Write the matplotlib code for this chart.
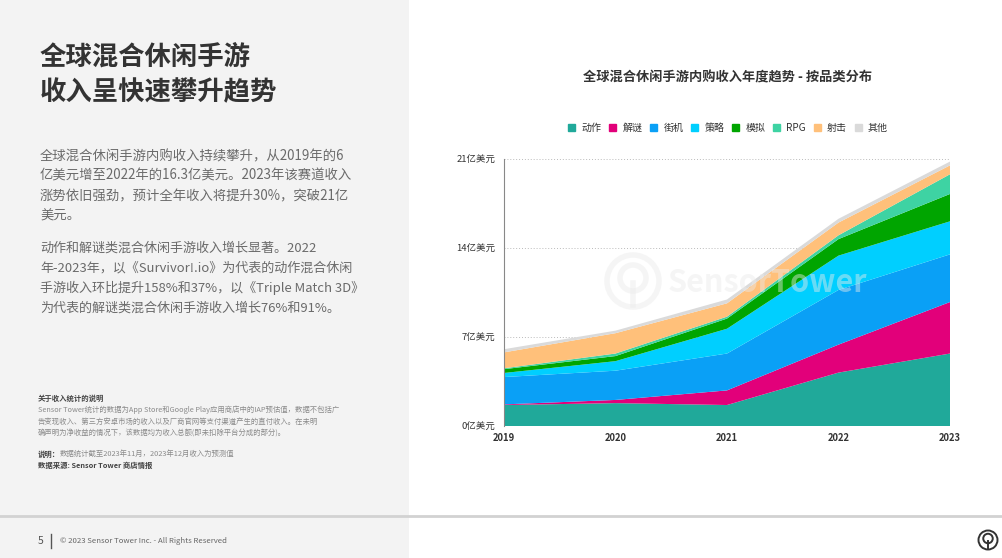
import matplotlib.pyplot as plt
import matplotlib.patches as mpatches
from matplotlib.patches import Rectangle
from matplotlib.lines import Line2D

plt.rcParams['font.family'] = ['Noto Sans CJK SC', 'DejaVu Sans']

# 数据（亿美元）
years = [2019, 2020, 2021, 2022, 2023]
categories = ['动作', '解谜', '街机', '策略', '模拟', 'RPG', '射击', '其他']
action = [1.65, 1.8, 1.65, 4.2, 5.7]
puzzle = [0.05, 0.25, 1.15, 2.2, 4.05]
arcade = [2.15, 2.3, 2.9, 4.3, 3.75]
strategy = [0.32, 0.75, 1.95, 2.7, 2.6]
simulation = [0.3, 0.4, 0.8, 1.3, 2.15]
rpg = [0.07, 0.2, 0.15, 0.3, 1.55]
shooter = [1.25, 1.6, 1.05, 1.0, 0.7]
other = [0.25, 0.2, 0.3, 0.3, 0.3]
y_ticks = [0, 7, 14, 21]
y_tick_labels = ['0亿美元', '7亿美元', '14亿美元', '21亿美元']

colors = ['#20a99a', '#e2007a', '#0aa0f6', '#00cfff', '#00a500', '#3ed3a3', '#ffc07a', '#dadada']

W, H = 1002, 558


def px(x, y):
    return x / W, 1 - y / H


fig = plt.figure(figsize=(W / 100, H / 100), dpi=100)
fig.patch.set_facecolor('white')

# 左侧灰色面板
fig.patches.append(Rectangle((0, 0), 409 / W, 1, transform=fig.transFigure,
                             facecolor='#f3f3f3', edgecolor='none', zorder=0))
# 底部分隔线
fig.lines.append(Line2D([0, 1], [1 - 515.5 / H] * 2, transform=fig.transFigure,
                        color='#d2d2d2', linewidth=2, zorder=1))

# 左侧标题
fig.text(*px(40, 57), '全球混合休闲手游', fontsize=19, fontweight='bold',
         color='#333333', va='center')
fig.text(*px(40, 93), '收入呈快速攀升趋势', fontsize=19, fontweight='bold',
         color='#333333', va='center')

para1 = ['全球混合休闲手游内购收入持续攀升，从2019年的6',
         '亿美元增至2022年的16.3亿美元。2023年该赛道收入',
         '涨势依旧强劲，预计全年收入将提升30%，突破21亿',
         '美元。']
para2 = ['动作和解谜类混合休闲手游收入增长显著。2022',
         '年-2023年，以《Survivor!.io》为代表的动作混合休闲',
         '手游收入环比提升158%和37%，以《Triple Match 3D》',
         '为代表的解谜类混合休闲手游收入增长76%和91%。']
for i, line in enumerate(para1):
    fig.text(*px(40, 156 + i * 20), line, fontsize=9.6, color='#6a6a6a', va='center')
for i, line in enumerate(para2):
    fig.text(*px(40, 248 + i * 20), line, fontsize=9.4, color='#6a6a6a', va='center')

# 注释
fig.text(*px(38, 398), '关于收入统计的说明', fontsize=5.3, fontweight='bold',
         color='#444444', va='center')
notes = ['Sensor Tower统计的数据为App Store和Google Play应用商店中的IAP预估值，数据不包括广',
         '告变现收入、第三方安卓市场的收入以及厂商官网等支付渠道产生的直付收入。在未明',
         '确声明为净收益的情况下，该数据均为收入总额(即未扣除平台分成的部分)。']
for i, line in enumerate(notes):
    fig.text(*px(38, 410 + i * 12), line, fontsize=5.3, color='#8a8a8a', va='center')
fig.text(*px(38, 454), '说明：', fontsize=5.3, fontweight='bold', color='#444444', va='center')
fig.text(*px(60, 454), '数据统计截至2023年11月，2023年12月收入为预测值', fontsize=5.3,
         color='#8a8a8a', va='center')
fig.text(*px(38, 465), '数据来源: Sensor Tower 商店情报', fontsize=5.3, fontweight='bold',
         color='#444444', va='center')

# 页脚
fig.text(*px(38, 541), '5', fontsize=7.5, color='#555555', va='center')
fig.lines.append(Line2D([51 / W] * 2, [1 - 534 / H, 1 - 548 / H], transform=fig.transFigure,
                        color='#555555', linewidth=1))
fig.text(*px(60, 541), '© 2023 Sensor Tower Inc. - All Rights Reserved', fontsize=5.6,
         color='#666666', va='center')

# 右下角图标
cx, cy = px(988, 540)
r = 9.5 / W
fig.patches.append(mpatches.Ellipse((cx, cy), 2 * r, 2 * r * W / H, transform=fig.transFigure,
                                    fill=False, edgecolor='#333333', linewidth=1.4))
fig.patches.append(mpatches.Ellipse((cx, cy + 1.5 / H), 1.0 * r, 1.0 * r * W / H,
                                    transform=fig.transFigure, fill=False,
                                    edgecolor='#333333', linewidth=1.4))
fig.lines.append(Line2D([cx, cx], [cy - 1 / H, cy - 8 / H], transform=fig.transFigure,
                        color='#333333', linewidth=1.4))

# 图表
x0, y0 = 504, 426
x1, y1 = 950, 159
ax = fig.add_axes([x0 / W, 1 - y0 / H, (x1 - x0) / W, (y0 - y1) / H])
series = [action, puzzle, arcade, strategy, simulation, rpg, shooter, other]
ax.stackplot(years, *series, colors=colors, linewidth=0, labels=categories, zorder=2)
ax.set_xlim(years[0], years[-1])
ax.set_ylim(0, 21)
ax.set_yticks(y_ticks)
ax.set_yticklabels(y_tick_labels, fontsize=6.8, color='#333333')
ax.set_xticks(years)
ax.set_xticklabels([str(y) for y in years], fontsize=6.8, fontweight='bold', color='#333333')
ax.tick_params(length=0, pad=6)
ax.tick_params(axis='x', pad=5)
for yv in y_ticks[1:]:
    ax.axhline(yv, color='#bbbbbb', linewidth=0.7, linestyle=(0, (1, 2)), zorder=1)
for s in ['top', 'right', 'bottom']:
    ax.spines[s].set_visible(False)
ax.spines['left'].set_color('#888888')
ax.spines['left'].set_linewidth(0.8)
ax.set_facecolor('white')

# 水印
wm = '#eaeaea'
wa = 0.45
wx, wy = px(633, 281)
wr = 26 / W
fig.patches.append(mpatches.Ellipse((wx, wy), 2 * wr, 2 * wr * W / H, transform=fig.transFigure,
                                    fill=False, edgecolor=wm, linewidth=4, alpha=wa, zorder=5))
fig.patches.append(mpatches.Ellipse((wx, wy + 3 / H), 1.0 * wr, 1.0 * wr * W / H,
                                    transform=fig.transFigure, fill=False,
                                    edgecolor=wm, linewidth=4, alpha=wa, zorder=5))
fig.lines.append(Line2D([wx, wx], [wy - 2 / H, wy - 24 / H], transform=fig.transFigure,
                        color=wm, linewidth=4, alpha=wa, zorder=5))
fig.text(*px(668, 283), 'SensorTower', fontsize=22, fontweight='bold', color=wm,
         alpha=wa, va='center', zorder=5)

# 图表标题与图例
fig.text(*px(728, 77), '全球混合休闲手游内购收入年度趋势 - 按品类分布', fontsize=9.5,
         fontweight='bold', color='#333333', ha='center', va='center')
handles = [mpatches.Patch(color=c, label=l) for c, l in zip(colors, categories)]
fig.legend(handles=handles, loc='center', bbox_to_anchor=px(728, 128), ncol=8,
           frameon=False, fontsize=7.2, handlelength=0.75, handleheight=0.75,
           handletextpad=0.6, columnspacing=0.75, labelcolor='#333333')

fig.savefig('out.png', dpi=100, facecolor=fig.get_facecolor())
